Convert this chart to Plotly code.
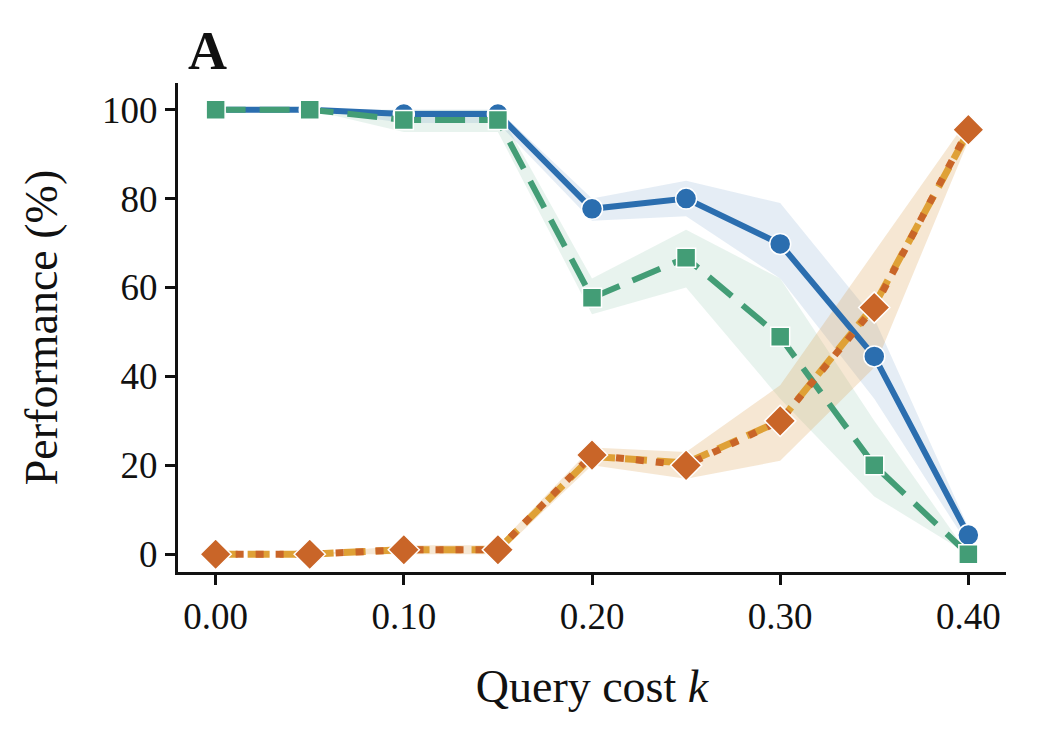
import plotly.graph_objects as go

k = [0.00, 0.05, 0.10, 0.15, 0.20, 0.25, 0.30, 0.35, 0.40]

blue = [100, 100, 99, 99, 77.7, 80, 69.8, 44.5, 4.3]
blue_lo = [100, 100, 97, 97, 75, 76, 62, 35, 2]
blue_hi = [100, 100, 100, 100, 80, 84, 79, 53, 6]

green = [100, 100, 97.7, 97.7, 57.7, 66.7, 48.9, 20, 0]
green_lo = [100, 100, 95, 95, 54, 60, 35, 13, 0]
green_hi = [100, 100, 100, 100, 62, 73, 62, 30, 0]

yellow = [0, 0, 1, 1, 22, 20.5, 30, 56, 95]
orange = [0, 0, 1, 1, 22.3, 20, 30, 55.5, 95.5]
orange_lo = [0, 0, 0, 0, 20, 17, 21, 42, 93]
orange_hi = [0, 0, 2, 2, 24, 23, 38, 68, 98]

fig = go.Figure()

def band(lo, hi, color):
    fig.add_trace(go.Scatter(x=k, y=hi, mode="lines", line=dict(width=0), showlegend=False, hoverinfo="skip"))
    fig.add_trace(go.Scatter(x=k, y=lo, mode="lines", line=dict(width=0), fill="tonexty",
                             fillcolor=color, showlegend=False, hoverinfo="skip"))

band(blue_lo, blue_hi, "rgba(42,110,175,0.12)")
band(green_lo, green_hi, "rgba(67,157,118,0.12)")
band(orange_lo, orange_hi, "rgba(220,160,80,0.25)")

mk = dict(line=dict(color="white", width=1.5))
fig.add_trace(go.Scatter(x=k, y=blue, mode="lines+markers", line=dict(color="#2b6eaf", width=6),
                         marker=dict(symbol="circle", size=21, color="#2b6eaf", **mk), showlegend=False))
fig.add_trace(go.Scatter(x=k, y=green, mode="lines+markers", line=dict(color="#439d76", width=6, dash="30px,14px"),
                         marker=dict(symbol="square", size=19, color="#439d76", **mk), showlegend=False))
fig.add_trace(go.Scatter(x=k, y=yellow, mode="lines+markers", line=dict(color="#dfa136", width=7, dash="22px,10px"),
                         marker=dict(symbol="triangle-up", size=16, color="#dfa136", **mk), showlegend=False))
fig.add_trace(go.Scatter(x=k, y=orange, mode="lines+markers", line=dict(color="#c96528", width=7, dash="8px,12px"),
                         marker=dict(symbol="diamond", size=24, color="#c96528", **mk), showlegend=False))

tfont = dict(family="Liberation Serif", size=37, color="#111")
lfont = dict(family="Liberation Serif", size=46, color="#111")
fig.update_layout(
    width=1058, height=730, plot_bgcolor="white", paper_bgcolor="white",
    margin=dict(l=170, r=60, t=75, b=166), font=tfont,
    annotations=[dict(text="<b>A</b>", x=0.01, y=1.0, xref="paper", yref="paper",
                      xanchor="left", yanchor="bottom", showarrow=False,
                      font=dict(family="Liberation Serif", size=54, color="#111"))],
)
fig.update_xaxes(range=[-0.02, 0.42], tickvals=[0, 0.1, 0.2, 0.3, 0.4],
                 ticktext=["0.00", "0.10", "0.20", "0.30", "0.40"], tickfont=tfont,
                 showgrid=False, zeroline=False, showline=True, linecolor="#111", linewidth=3,
                 ticks="outside", ticklen=10, tickwidth=3, tickcolor="#111",
                 title=dict(text="Query cost <i>k</i>", font=lfont, standoff=34))
fig.update_yaxes(range=[-4, 106], tickvals=[0, 20, 40, 60, 80, 100], tickfont=tfont,
                 showgrid=False, zeroline=False, showline=True, linecolor="#111", linewidth=3,
                 ticks="outside", ticklen=10, tickwidth=3, tickcolor="#111",
                 title=dict(text="Performance (%)", font=lfont, standoff=30))

fig.write_html("out.html")
